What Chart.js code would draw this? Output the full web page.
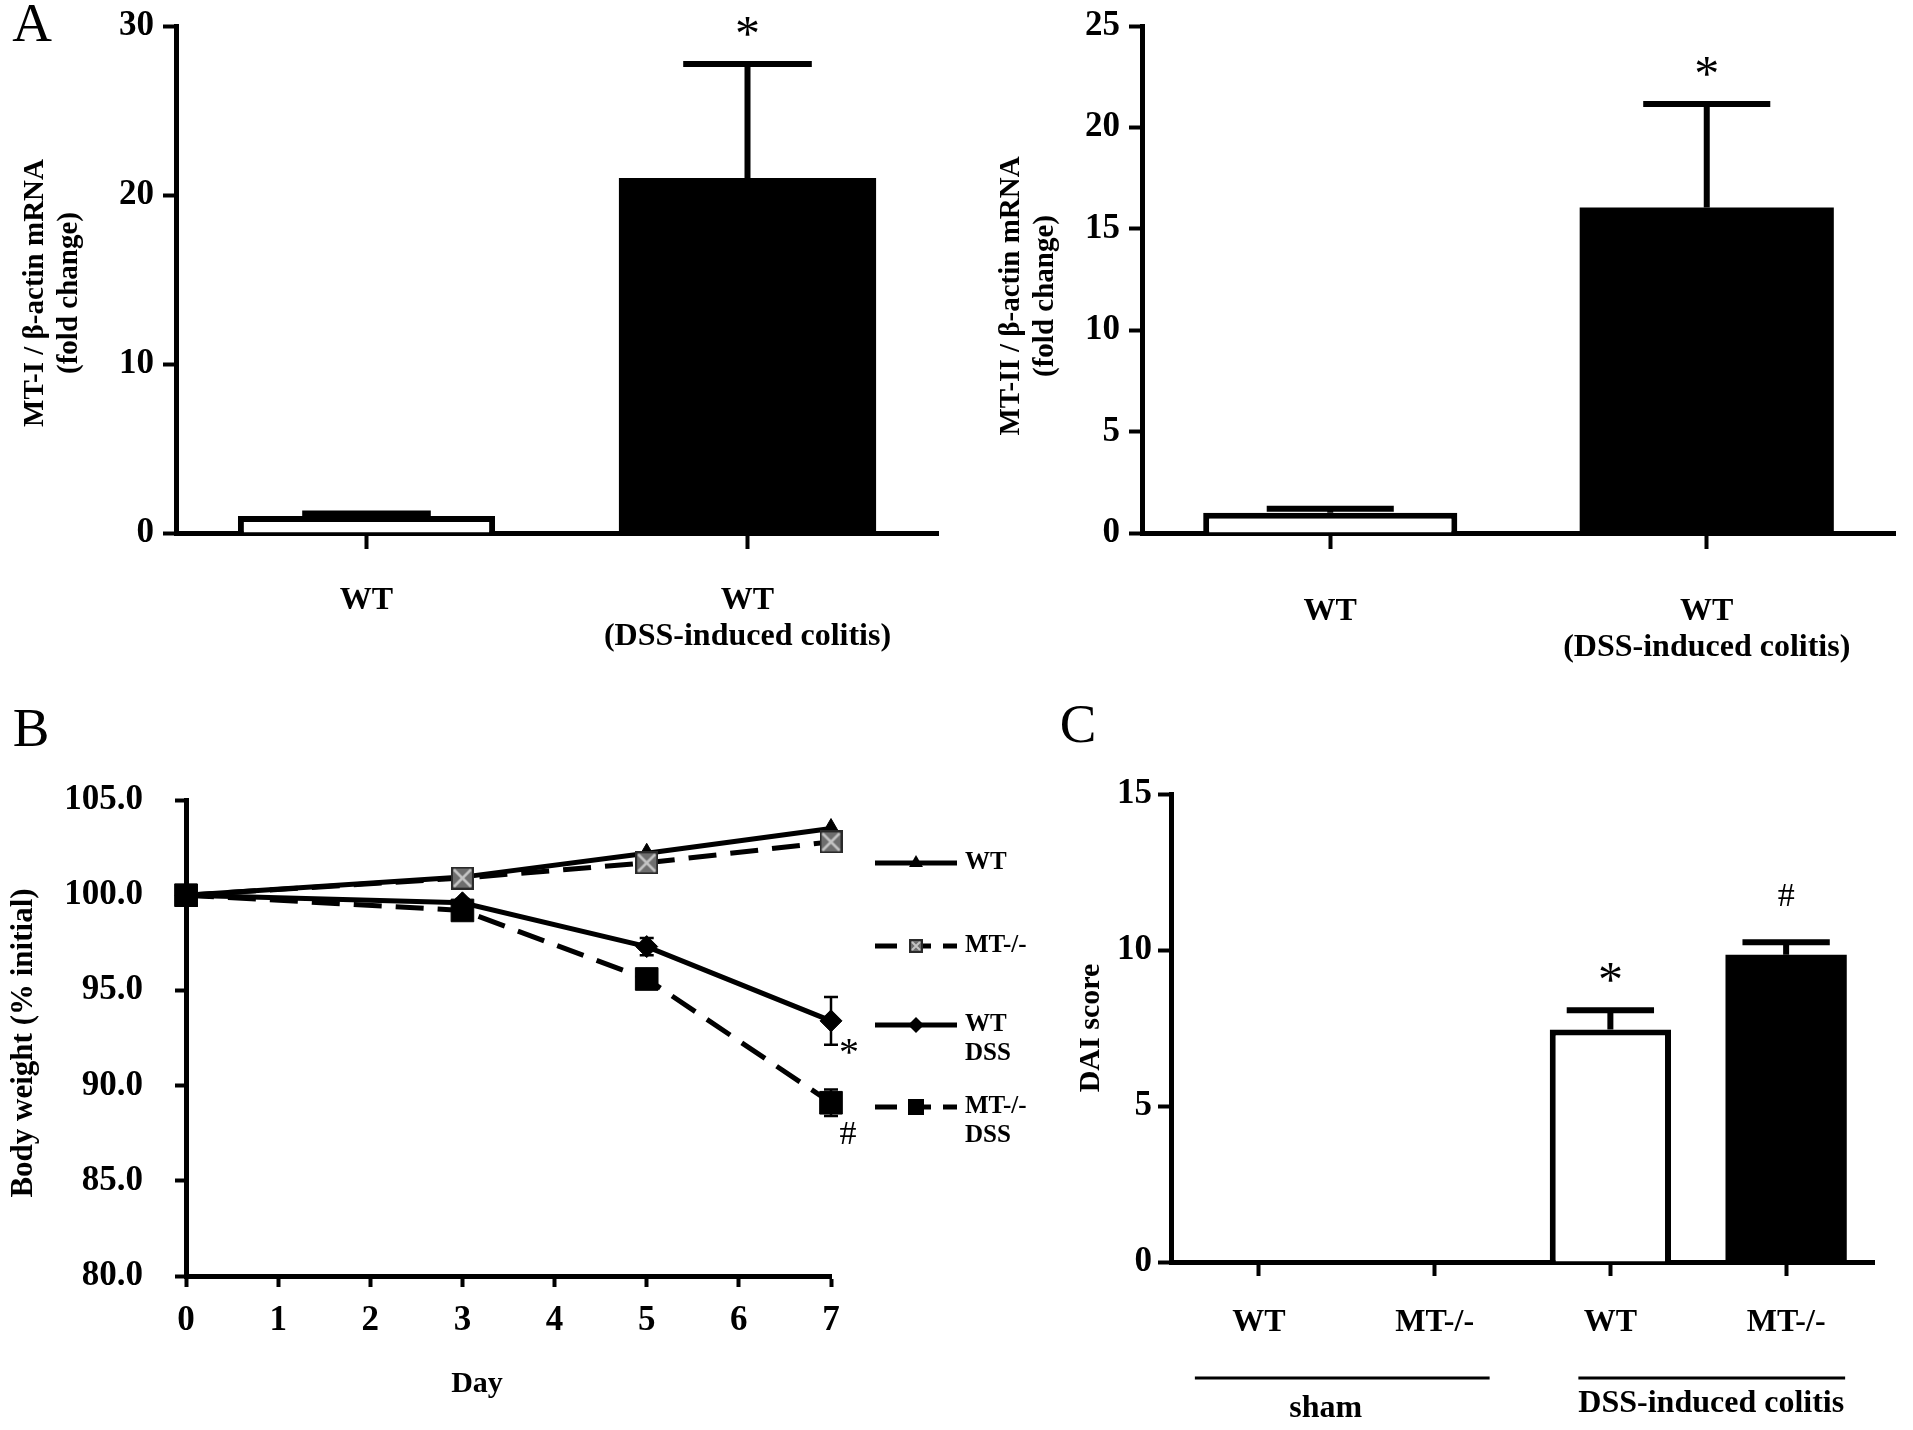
<!DOCTYPE html>
<html>
<head>
<meta charset="utf-8">
<script src="https://cdn.jsdelivr.net/npm/chart.js@4.4.1/dist/chart.umd.min.js"></script>
<style>
  html, body { margin: 0; padding: 0; background: #fff; }
  #fig { position: relative; width: 1913px; height: 1430px; background: #fff; overflow: hidden; }
  #fig canvas { position: absolute; }
</style>
</head>
<body>
<div id="fig">
  <canvas id="mt1" width="960" height="700" style="left:0;top:0;width:960px;height:700px"></canvas>
  <canvas id="mt2" width="953" height="700" style="left:960px;top:0;width:953px;height:700px"></canvas>
  <canvas id="bw" width="1050" height="740" style="left:0;top:690px;width:1050px;height:740px"></canvas>
  <canvas id="dai" width="863" height="740" style="left:1050px;top:690px;width:863px;height:740px"></canvas>
</div>
<script>
// ---- data ----
var mtLabels = ['WT', ['WT', '(DSS-induced colitis)']];
var mt1Mean = [1.0, 21.0];
var mt1Sem = [0.15, 6.75];
var mt2Mean = [1.0, 16.05];
var mt2Sem = [0.2, 5.1];
var mtSig = ['', '*'];

var days = [0, 1, 2, 3, 4, 5, 6, 7];
var bwDays = [0, 3, 5, 7];
var bwWT = [100, 100.95, 102.2, 103.5];
var bwMT = [100, 100.9, 101.7, 102.8];
var bwWTDSS = [100, 99.6, 97.3, 93.4];
var bwWTDSSSem = [0, 0.2, 0.45, 1.25];
var bwMTDSS = [100, 99.2, 95.6, 89.1];
var bwMTDSSSem = [0, 0.2, 0.2, 0.7];

var daiLabels = ['WT', 'MT-/-', 'WT', 'MT-/-'];
var daiMean = [0, 0, 7.45, 9.85];
var daiSem = [0, 0, 0.62, 0.4];
var daiSig = ['', '', '*', '#'];
var daiGroups = ['sham', 'DSS-induced colitis'];

var FONT = '"Liberation Serif", "Times New Roman", Times, serif';
Chart.defaults.font.family = FONT;
Chart.defaults.color = '#000';

function txt(ctx, s, x, y, size, o) {
  o = o || {};
  ctx.save();
  ctx.fillStyle = '#000';
  ctx.font = (o.bold ? 'bold ' : '') + size + 'px ' + FONT;
  ctx.textAlign = o.align || 'center';
  ctx.textBaseline = o.base || 'middle';
  ctx.translate(x, y);
  if (o.rot) ctx.rotate(o.rot);
  ctx.fillText(s, 0, 0);
  ctx.restore();
}

// symbol centred on (x, y)
function sigMark(ctx, s, x, y) {
  if (s === '*') txt(ctx, '*', x, y + 0.47 * 50, 50, { base: 'alphabetic' });
  else if (s === '#') txt(ctx, '#', x, y + 0.34 * 34, 34, { base: 'alphabetic' });
}

function textLayer(items) {
  return {
    id: 'textLayer',
    afterDraw: function (chart) {
      items.forEach(function (it) { txt(chart.ctx, it.t, it.x, it.y, it.size, it); });
    }
  };
}

// error bars on bar charts (upward only) + significance marks
function barErrors(capFrac, width, gap) {
  return {
    id: 'barErrors',
    afterDatasetsDraw: function (chart) {
      var ctx = chart.ctx, y = chart.scales.y;
      chart.data.datasets.forEach(function (ds, di) {
        chart.getDatasetMeta(di).data.forEach(function (el, i) {
          var v = ds.data[i], e = ds.errors[i];
          if (!e) return;
          var y0 = y.getPixelForValue(v), y1 = y.getPixelForValue(v + e);
          var hw = el.width * capFrac / 2;
          ctx.save();
          ctx.strokeStyle = '#000';
          ctx.lineWidth = width;
          ctx.beginPath();
          ctx.moveTo(el.x, y0);
          ctx.lineTo(el.x, y1);
          ctx.moveTo(el.x - hw, y1);
          ctx.lineTo(el.x + hw, y1);
          ctx.stroke();
          ctx.restore();
          if (ds.sig && ds.sig[i]) sigMark(ctx, ds.sig[i], el.x, y1 - gap[ds.sig[i]]);
        });
      });
    }
  };
}

function barPanel(id, o) {
  return new Chart(document.getElementById(id), {
    type: 'bar',
    data: {
      labels: o.labels,
      datasets: [{
        data: o.mean,
        errors: o.sem,
        sig: o.sig,
        backgroundColor: o.fills,
        borderColor: '#000',
        // black bars need no outline; skipping it avoids a seam inside the fill
        borderWidth: o.fills.map(function (f) { return f === '#000' ? 0 : 6; }),
        categoryPercentage: 1,
        barPercentage: o.barPct
      }]
    },
    options: {
      responsive: false,
      animation: false,
      devicePixelRatio: 1,
      events: [],
      layout: { padding: o.pad },
      plugins: { legend: { display: false }, tooltip: { enabled: false } },
      scales: {
        x: {
          grid: { offset: false, drawOnChartArea: false, tickLength: o.xTick, tickWidth: 4, tickColor: '#000' },
          border: { color: '#000', width: 5 },
          ticks: { color: '#000', font: { size: 32, weight: 'bold', lineHeight: 1.15 }, padding: o.xPad, maxRotation: 0, autoSkip: false },
          afterFit: function (s) { s.height = o.xH; s.paddingLeft = 0; s.paddingRight = 0; }
        },
        y: {
          min: 0, max: o.max,
          ticks: { stepSize: o.step, color: '#000', font: { size: 35, weight: 'bold' }, padding: o.yPad },
          grid: { drawOnChartArea: false, tickLength: 13, tickWidth: 4, tickColor: '#000' },
          border: { color: '#000', width: 5 },
          afterFit: function (s) { s.width = o.yW; s.paddingTop = 0; s.paddingBottom = 0; }
        }
      }
    },
    plugins: [barErrors(o.capFrac, 6, { '*': 38, '#': 48 }), textLayer(o.texts)].concat(o.extra || [])
  });
}

// ---- A, MT-I ----
barPanel('mt1', {
  labels: mtLabels, mean: mt1Mean, sem: mt1Sem, sig: mtSig,
  fills: ['#fff', '#000'], barPct: 0.675, capFrac: 0.5,
  max: 30, step: 10,
  pad: { left: 0, top: 26, right: 22, bottom: 0 }, yW: 176, xH: 167,
  xTick: 16, xPad: 33, yPad: 9,
  texts: [
    { t: 'A', x: 32, y: 27, size: 55 },
    { t: 'MT-I / \u03b2-actin mRNA', x: 36, y: 293, size: 29, bold: true, rot: -Math.PI / 2 },
    { t: '(fold change)', x: 70, y: 293, size: 29, bold: true, rot: -Math.PI / 2 }
  ]
});

// ---- A, MT-II ----
barPanel('mt2', {
  labels: mtLabels, mean: mt2Mean, sem: mt2Sem, sig: mtSig,
  fills: ['#fff', '#000'], barPct: 0.675, capFrac: 0.5,
  max: 25, step: 5,
  pad: { left: 0, top: 26, right: 18, bottom: 0 }, yW: 182, xH: 167,
  xTick: 16, xPad: 44, yPad: 9,
  texts: [
    { t: 'MT-II / \u03b2-actin mRNA', x: 52, y: 296, size: 29, bold: true, rot: -Math.PI / 2 },
    { t: '(fold change)', x: 86, y: 296, size: 29, bold: true, rot: -Math.PI / 2 }
  ]
});

// ---- C, DAI score ----
var daiBrackets = {
  id: 'daiBrackets',
  afterDraw: function (chart) {
    var ctx = chart.ctx, x = chart.scales.x;
    var ly = 688;
    ctx.save();
    ctx.strokeStyle = '#000';
    ctx.lineWidth = 3;
    ctx.beginPath();
    ctx.moveTo(x.getPixelForValue(0) - 64, ly);
    ctx.lineTo(x.getPixelForValue(1) + 55, ly);
    ctx.moveTo(x.getPixelForValue(2) - 32, ly);
    ctx.lineTo(x.getPixelForValue(3) + 59, ly);
    ctx.stroke();
    ctx.restore();
    txt(ctx, daiGroups[0], (x.getPixelForValue(0) + x.getPixelForValue(1)) / 2 - 21, 719, 32, { bold: true });
    txt(ctx, daiGroups[1], (x.getPixelForValue(2) + x.getPixelForValue(3)) / 2 + 13, 714, 32, { bold: true });
  }
};

barPanel('dai', {
  labels: daiLabels, mean: daiMean, sem: daiSem, sig: daiSig,
  fills: ['#fff', '#000', '#fff', '#000'], barPct: 0.69, capFrac: 0.72,
  max: 15, step: 5,
  pad: { left: 0, top: 104, right: 39, bottom: 0 }, yW: 121, xH: 168,
  xTick: 14, xPad: 28, yPad: 6,
  texts: [
    { t: 'C', x: 28, y: 38, size: 55 },
    { t: 'DAI score', x: 41, y: 338, size: 30, bold: true, rot: -Math.PI / 2 }
  ],
  extra: [daiBrackets]
});

// ---- B, body weight ----
function crossBox(size) {
  var c = document.createElement('canvas');
  c.width = size; c.height = size;
  var g = c.getContext('2d');
  g.fillStyle = '#6e6e6e';
  g.fillRect(0, 0, size, size);
  g.strokeStyle = '#2a2a2a';
  g.lineWidth = 2;
  g.strokeRect(1, 1, size - 2, size - 2);
  g.strokeStyle = '#c4c4c4';
  g.lineWidth = Math.max(2, size / 9);
  g.beginPath();
  g.moveTo(3, 3); g.lineTo(size - 3, size - 3);
  g.moveTo(size - 3, 3); g.lineTo(3, size - 3);
  g.stroke();
  return c;
}

function pts(vals) {
  return bwDays.map(function (d, i) { return { x: d, y: vals[i] }; });
}

function drawMarker(ctx, kind, x, y, r) {
  ctx.save();
  ctx.fillStyle = '#000';
  ctx.beginPath();
  if (kind === 'triangle') {
    ctx.moveTo(x, y - r); ctx.lineTo(x + r * 0.87, y + r * 0.5); ctx.lineTo(x - r * 0.87, y + r * 0.5);
  } else if (kind === 'rectRot') {
    ctx.moveTo(x, y - r); ctx.lineTo(x + r, y); ctx.lineTo(x, y + r); ctx.lineTo(x - r, y);
  } else if (kind === 'rect') {
    ctx.rect(x - r, y - r, 2 * r, 2 * r);
  }
  ctx.closePath();
  ctx.fill();
  if (kind === 'cross') ctx.drawImage(crossBox(2 * r), x - r, y - r);
  ctx.restore();
}

var bwSets = [
  { label: 'WT', data: pts(bwWT), errors: [0, 0, 0, 0], dash: [], marker: 'triangle', pointStyle: 'triangle', pointRadius: 10, order: 3 },
  { label: 'MT-/-', data: pts(bwMT), errors: [0, 0, 0, 0], dash: [28, 14], marker: 'cross', pointStyle: crossBox(23), pointRadius: 11, order: 1 },
  { label: ['WT', 'DSS'], data: pts(bwWTDSS), errors: bwWTDSSSem, dash: [], marker: 'rectRot', pointStyle: 'rectRot', pointRadius: 11, order: 2 },
  { label: ['MT-/-', 'DSS'], data: pts(bwMTDSS), errors: bwMTDSSSem, dash: [28, 14], marker: 'rect', pointStyle: 'rect', pointRadius: 16, order: 0 }
];

var bwErrors = {
  id: 'bwErrors',
  beforeDatasetsDraw: function (chart) {
    var ctx = chart.ctx, xs = chart.scales.x, ys = chart.scales.y;
    ctx.save();
    ctx.strokeStyle = '#000';
    ctx.lineWidth = 2.5;
    chart.data.datasets.forEach(function (ds) {
      ds.data.forEach(function (p, i) {
        var e = ds.errors[i];
        if (!e) return;
        var px = xs.getPixelForValue(p.x);
        var a = ys.getPixelForValue(p.y + e), b = ys.getPixelForValue(p.y - e);
        ctx.beginPath();
        ctx.moveTo(px, a); ctx.lineTo(px, b);
        ctx.moveTo(px - 7, a); ctx.lineTo(px + 7, a);
        ctx.moveTo(px - 7, b); ctx.lineTo(px + 7, b);
        ctx.stroke();
      });
    });
    ctx.restore();
  },
  afterDatasetsDraw: function (chart) {
    var ctx = chart.ctx, xs = chart.scales.x, ys = chart.scales.y;
    var last = bwDays.length - 1;
    var ds = chart.data.datasets;
    var p = ds[2].data[last];
    var x = xs.getPixelForValue(p.x) + 18;
    txt(ctx, '*', x, ys.getPixelForValue(p.y - ds[2].errors[last]) + 2 + 0.47 * 40, 40, { base: 'alphabetic' });
    p = ds[3].data[last];
    txt(ctx, '#', x - 1, ys.getPixelForValue(p.y) + 30 + 0.34 * 34, 34, { base: 'alphabetic' });
  }
};

var bwLegend = {
  id: 'bwLegend',
  afterDraw: function (chart) {
    var ctx = chart.ctx, a = chart.chartArea;
    var rows = [173, 256, 335, 417];
    var x0 = a.right + 44, x1 = a.right + 126, xm = (x0 + x1) / 2;
    var sizes = { triangle: 8, cross: 7, rectRot: 8, rect: 8 };
    chart.data.datasets.forEach(function (ds, i) {
      var y = rows[i];
      ctx.save();
      ctx.strokeStyle = '#000';
      ctx.lineWidth = 5;
      ctx.setLineDash(ds.dash.length ? [22, 12] : []);
      ctx.beginPath();
      ctx.moveTo(x0, y); ctx.lineTo(x1, y);
      ctx.stroke();
      ctx.restore();
      drawMarker(ctx, ds.marker, xm, y, sizes[ds.marker]);
      var lab = Array.isArray(ds.label) ? ds.label : [ds.label];
      lab.forEach(function (s, k) {
        txt(ctx, s, x1 + 8, y + k * 29, 25, { bold: true, align: 'left' });
      });
    });
  }
};

new Chart(document.getElementById('bw'), {
  type: 'line',
  data: {
    datasets: bwSets.map(function (s) {
      return {
        label: s.label,
        data: s.data,
        errors: s.errors,
        dash: s.dash,
        marker: s.marker,
        order: s.order,
        borderColor: '#000',
        borderWidth: 5,
        borderDash: s.dash,
        tension: 0,
        clip: false,
        pointStyle: s.pointStyle,
        pointRadius: s.pointRadius,
        pointBackgroundColor: '#000',
        pointBorderColor: '#000',
        pointBorderWidth: 1
      };
    })
  },
  options: {
    responsive: false,
    animation: false,
    devicePixelRatio: 1,
    events: [],
    layout: { padding: { left: 0, top: 110, right: 219, bottom: 0 } },
    plugins: { legend: { display: false }, tooltip: { enabled: false } },
    scales: {
      x: {
        type: 'linear', min: days[0], max: days[days.length - 1],
        ticks: { stepSize: 1, color: '#000', font: { size: 35, weight: 'bold' }, padding: 13 },
        grid: { drawOnChartArea: false, tickLength: 11, tickWidth: 4, tickColor: '#000' },
        border: { color: '#000', width: 5 },
        afterFit: function (s) { s.height = 154; s.paddingLeft = 0; s.paddingRight = 0; }
      },
      y: {
        min: 80, max: 105,
        ticks: { stepSize: 5, color: '#000', font: { size: 35, weight: 'bold' }, padding: 32, callback: function (v) { return v.toFixed(1); } },
        grid: { drawOnChartArea: false, tickLength: 11, tickWidth: 4, tickColor: '#000' },
        border: { color: '#000', width: 5 },
        afterFit: function (s) { s.width = 186; s.paddingTop = 0; s.paddingBottom = 0; }
      }
    }
  },
  plugins: [bwErrors, bwLegend, textLayer([
    { t: 'B', x: 31, y: 42, size: 55 },
    { t: 'Body weight (% initial)', x: 24, y: 353, size: 31, bold: true, rot: -Math.PI / 2 },
    { t: 'Day', x: 477, y: 694, size: 30, bold: true }
  ])]
});
</script>
</body>
</html>
